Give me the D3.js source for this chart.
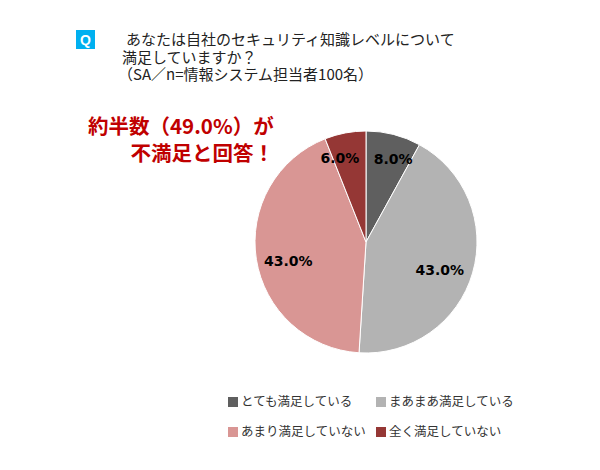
<!DOCTYPE html>
<html><head><meta charset="utf-8">
<script src="https://cdn.jsdelivr.net/npm/d3@7"></script>
<style>body{margin:0;background:#fff}</style>
</head><body>
<svg id="c" width="600" height="470"></svg>
<script>
const categories = ["とても満足している","まあまあ満足している","あまり満足していない","全く満足していない"];
const values = [8.0, 43.0, 43.0, 6.0];
const colors = ["#5f5f5f","#b3b3b3","#d99694","#953735"];
const titleLines = ["あなたは自社のセキュリティ知識レベルについて","満足していますか？","（SA／n=情報システム担当者100名）"];
const calloutLines = ["約半数（49.0%）が","不満足と回答！"];

const svg = d3.select("#c");
const jp = "'Noto Sans CJK JP', sans-serif";

svg.append("rect").attr("x",76).attr("y",30).attr("width",19).attr("height",19).attr("fill","#00b0f0");
svg.append("text").attr("x",85.5).attr("y",44.5).attr("text-anchor","middle").attr("fill","#fff")
  .attr("font-family","Arial, 'Liberation Sans', sans-serif").attr("font-weight","bold").attr("font-size",14).text("Q");

const tx = [126, 122, 118];
titleLines.forEach((t,i)=>{
  svg.append("text").attr("x",tx[i]).attr("y",45+i*17.5).attr("font-family",jp).attr("font-size",15)
    .attr("fill","#222").text(t);
});

svg.append("text").attr("x",88).attr("y",134).attr("font-family",jp).attr("font-weight","bold")
  .attr("font-size",20.5).attr("fill","#c00000").text(calloutLines[0]);
svg.append("text").attr("x",274).attr("y",161).attr("text-anchor","end").attr("font-family",jp).attr("font-weight","bold")
  .attr("font-size",20.5).attr("fill","#c00000").text(calloutLines[1]);

const cx = 366, cy = 242, r = 111;
const pie = d3.pie().sort(null).value(d=>d);
const arcs = pie(values);
const arc = d3.arc().innerRadius(0).outerRadius(r);
const g = svg.append("g").attr("transform",`translate(${cx},${cy})`);
g.selectAll("path").data(arcs).join("path").attr("d",arc)
  .attr("fill",(d,i)=>colors[i]).attr("stroke","#fff").attr("stroke-width",1);

const labelR = [0.79, 0.71, 0.72, 0.79];
const labelShift = [0.063, 0.08, -0.08, -0.115];
g.selectAll("text.lbl").data(arcs).join("text").attr("class","lbl")
  .attr("transform",(d,i)=>{
    const a = (d.startAngle+d.endAngle)/2 + labelShift[i];
    const rr = r*labelR[i];
    return `translate(${Math.sin(a)*rr},${-Math.cos(a)*rr})`;
  })
  .attr("text-anchor","middle").attr("dy","0.36em")
  .attr("font-family","Verdana, 'DejaVu Sans', sans-serif").attr("font-weight","bold").attr("font-size",14)
  .attr("fill","#000").text(d=>d.data.toFixed(1)+"%");

const lx = [228, 376], ly = [402, 432];
categories.forEach((c,i)=>{
  const x = lx[i%2], y = ly[Math.floor(i/2)];
  svg.append("rect").attr("x",x).attr("y",y-5).attr("width",10).attr("height",10).attr("fill",colors[i]);
  svg.append("text").attr("x",x+13).attr("y",y).attr("dy","0.35em").attr("font-family",jp)
    .attr("font-size",12.5).attr("fill","#333").text(c);
});
</script>
</body></html>
